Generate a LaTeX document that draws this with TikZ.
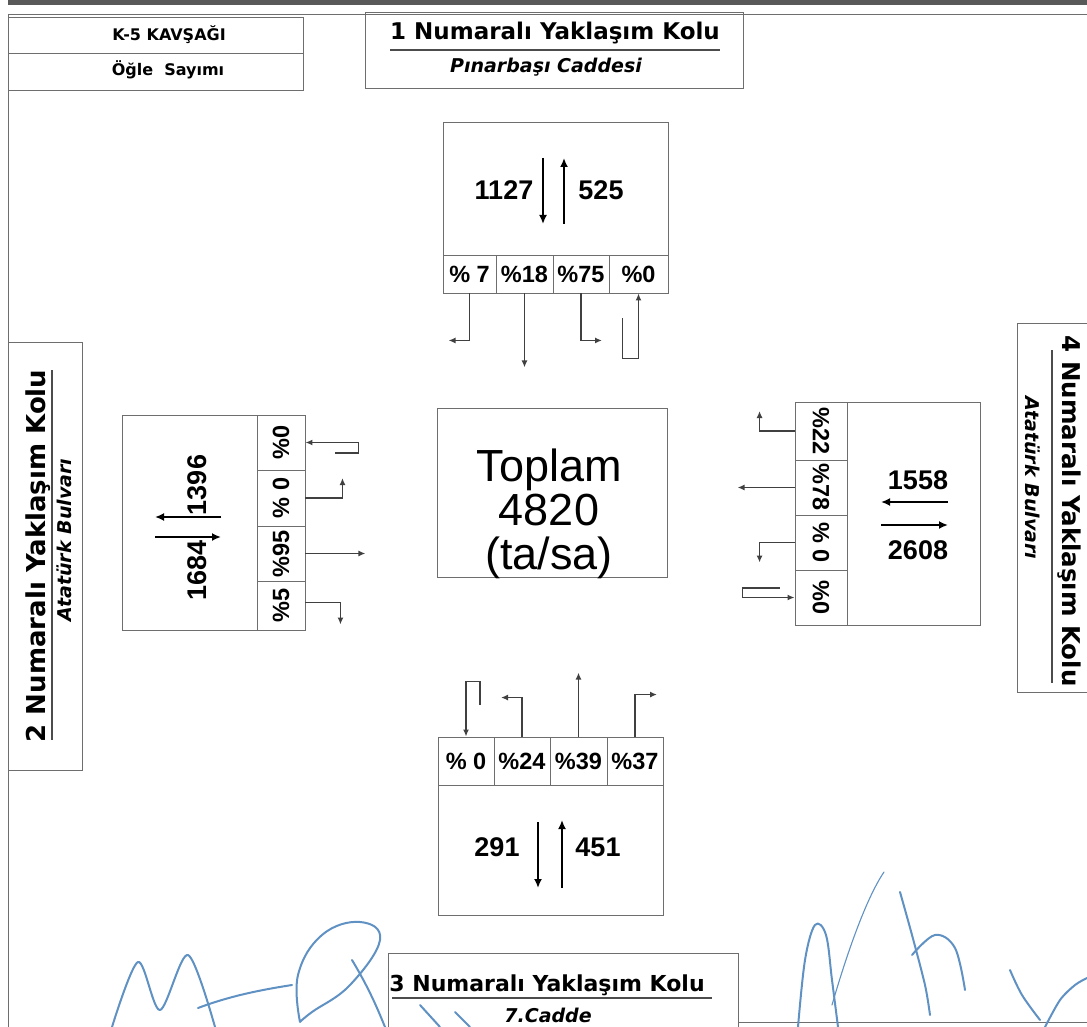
\documentclass[tikz,border=0pt]{standalone}
\usepackage{fontspec}
\setmainfont{Liberation Sans}
\newfontfamily\djv{DejaVu Sans}
\usetikzlibrary{arrows.meta,calc}
\definecolor{linegray}{RGB}{110,110,110}
\definecolor{sigblue}{RGB}{95,145,195}
\tikzset{
  box/.style={draw=linegray, line width=0.9pt, inner sep=0pt},
  cellbox/.style={box, font=\fontsize{23.5}{25}\selectfont\bfseries},
  numtxt/.style={inner sep=0pt, font=\fontsize{27}{30}\selectfont\bfseries},
  turn/.style={draw=black!75, line width=1.5pt, -{Latex[length=7pt,width=6pt]}},
  flow/.style={draw=black, line width=2.4pt, -{Latex[length=9pt,width=8pt]}},
  ttl/.style={inner sep=0pt, font=\djv\bfseries\fontsize{23}{27}\selectfont},
  subttl/.style={inner sep=0pt, font=\djv\bfseries\itshape\fontsize{19}{22}\selectfont},
  hdr/.style={inner sep=0pt, font=\djv\bfseries\fontsize{16}{19}\selectfont},
  sig/.style={draw=sigblue, line width=2pt, line cap=round, line join=round},
}
\begin{document}
\begin{tikzpicture}[x=1pt,y=-1pt]
\useasboundingbox (0,0) rectangle (1087,1027);
% frame
\fill[black!65] (8,0) rectangle (1087,5);
\draw[linegray, line width=0.8pt] (8,14) -- (1087,14);
\draw[linegray, line width=0.8pt] (8,14) -- (8,1027);
\draw[linegray, line width=0.8pt] (738,1022) -- (1087,1022);

% header box top-left
\node[box, minimum width=295pt, minimum height=36pt] (H1) at (155.5,35) {};
\node[box, minimum width=295pt, minimum height=37pt] (H2) at (155.5,71.5) {};
\node[hdr] (h1t) at (169,35) {K-5 KAVŞAĞI};
\node[hdr] (h2t) at (168,70) {Öğle\ \ Sayımı};

% approach 1 title
\node[box, minimum width=378pt, minimum height=76pt] (T1) at (554,50) {};
\node[ttl] (t1a) at (555,33) {1 Numaralı Yaklaşım Kolu};
\node[subttl] (t1b) at (546,67) {Pınarbaşı Caddesi};
\draw[black!70, line width=1.8pt] (390,50) -- (720,50);

% approach 3 title
\node[box, minimum width=350pt, minimum height=100pt, anchor=north west] (T3) at (388,953) {};
\node[ttl, font=\djv\bfseries\fontsize{22}{26}\selectfont] (t3a) at (547,985) {3 Numaralı Yaklaşım Kolu};
\node[subttl] (t3b) at (548,1015) {7.Cadde};
\draw[black!70, line width=2pt] (392,998) -- (712,998);

% approach 2 title
\node[box, minimum width=74pt, minimum height=428pt] (T2) at (45,556) {};
\node[ttl, rotate=90, font=\djv\bfseries\fontsize{26}{30}\selectfont] (t2a) at (38,556) {2 Numaralı Yaklaşım Kolu};
\node[subttl, rotate=90] (t2b) at (64,540) {Atatürk Bulvarı};
\draw[black!70, line width=1.6pt] (52,370) -- (52,740);

% approach 4 title
\node[box, minimum width=80pt, minimum height=369pt, anchor=north west] (T4) at (1017,323) {};
\node[ttl, rotate=-90, font=\djv\bfseries\fontsize{24.5}{28}\selectfont] (t4a) at (1069,511) {4 Numaralı Yaklaşım Kolu};
\node[subttl, rotate=-90] (t4b) at (1033,478) {Atatürk Bulvarı};
\draw[black!70, line width=1.6pt] (1052,350) -- (1052,683);

% ---------------- north approach
\node[box, minimum width=225pt, minimum height=133pt] (N) at (555.5,188.5) {};
\node[cellbox, minimum width=53pt, minimum height=38pt] (N1) at (469.5,274) {\% 7};
\node[cellbox, minimum width=57pt, minimum height=38pt] (N2) at (524.5,274) {\%18};
\node[cellbox, minimum width=56pt, minimum height=38pt] (N3) at (581,274) {\%75};
\node[cellbox, minimum width=59pt, minimum height=38pt] (N4) at (638.5,274) {\%0};
\node[numtxt] (nin) at (504,190) {1127};
\node[numtxt] (nout) at (601,190) {525};
\draw[flow] (543,158) -- (543,224);
\draw[flow] (564,224) -- (564,158);
\draw[turn] (N1.south) -- ++(0,47) -- ++(-21,0);
\draw[turn] (N2.south) -- ++(0,74);
\draw[turn] (N3.south) -- ++(0,47) -- ++(21,0);
\draw[turn] ($(N4.south)+(-16,25)$) -- ++(0,40) -| (N4.south);

% ---------------- south approach
\node[box, minimum width=225pt, minimum height=130pt] (S) at (550.5,850) {};
\node[cellbox, minimum width=56pt, minimum height=48pt] (S1) at (466,761) {\% 0};
\node[cellbox, minimum width=56pt, minimum height=48pt] (S2) at (522,761) {\%24};
\node[cellbox, minimum width=57pt, minimum height=48pt] (S3) at (578.5,761) {\%39};
\node[cellbox, minimum width=56pt, minimum height=48pt] (S4) at (635,761) {\%37};
\node[numtxt] (sin) at (497,847) {291};
\node[numtxt] (sout) at (598,847) {451};
\draw[flow] (538,822) -- (538,888);
\draw[flow] (562,888) -- (562,820);
\draw[turn] ($(S1.north)+(14,-32)$) -- ++(0,-23) -| (S1.north);
\draw[turn] (S2.north) -- ++(0,-39) -- ++(-21,0);
\draw[turn] (S3.north) -- ++(0,-64);
\draw[turn] (S4.north) -- ++(0,-42) -- ++(22,0);

% ---------------- west approach (cells rotated: local south = right side)
\node[box, minimum width=135pt, minimum height=215pt] (W) at (189.5,522.5) {};
\node[cellbox, rotate=90, minimum width=55pt, minimum height=48pt] (W1) at (281,442.5) {\%0};
\node[cellbox, rotate=90, minimum width=56pt, minimum height=48pt] (W2) at (281,498) {\% 0};
\node[cellbox, rotate=90, minimum width=55pt, minimum height=48pt] (W3) at (281,553.5) {\%95};
\node[cellbox, rotate=90, minimum width=49pt, minimum height=48pt] (W4) at (281,605.5) {\%5};
\node[numtxt, rotate=90] (win) at (197,570) {1684};
\node[numtxt, rotate=90] (wout) at (197,485) {1396};
\draw[flow] (221,517) -- (155,517);
\draw[flow] (155,537) -- (221,537);
\draw[turn] ($(W1.south)+(30,10.5)$) -- ++(23,0) |- (W1.south);
\draw[turn] (W2.south) -- ++(37,0) -- ++(0,-20);
\draw[turn] (W3.south) -- ++(60,0);
\draw[turn] ($(W4.south)+(0,-3)$) -- ++(35,0) -- ++(0,22);

% ---------------- east approach (cells rotated: local south = left side)
\node[box, minimum width=133pt, minimum height=223pt] (E) at (913.5,513.5) {};
\node[cellbox, rotate=-90, minimum width=58pt, minimum height=52pt] (E1) at (821,431) {\%22};
\node[cellbox, rotate=-90, minimum width=55pt, minimum height=52pt] (E2) at (821,487.5) {\%78};
\node[cellbox, rotate=-90, minimum width=55pt, minimum height=52pt] (E3) at (821,542.5) {\% 0};
\node[cellbox, rotate=-90, minimum width=55pt, minimum height=52pt] (E4) at (821,597.5) {\%0};
\node[numtxt] (ein) at (918,480) {1558};
\node[numtxt] (eout) at (918,550) {2608};
\draw[flow] (948,502) -- (881,502);
\draw[flow] (881,525) -- (948,525);
\draw[turn] (E1.south) -- ++(-35,0) -- ++(0,-20);
\draw[turn] (E2.south) -- ++(-57,0);
\draw[turn] (E3.south) -- ++(-35,0) -- ++(0,20);
\draw[turn] ($(E4.south)+(-15,-9.5)$) -- ++(-37,0) |- (E4.south);

% ---------------- centre
\node[box, minimum width=230pt, minimum height=169pt] (C) at (552,492.5) {};
\node[inner sep=0pt, align=center, font=\fontsize{45}{44}\selectfont] (ctxt) at (549,514) {Toplam\\4820\\(ta/sa)};

% ---------------- signatures
\draw[sig] plot[smooth, tension=0.5] coordinates {(112,1027) (138,962) (160,1010) (188,955) (215,1027)};
\draw[sig] (198,1008) .. controls (230,996) and (260,990) .. (292,985);
\draw[sig] plot[smooth, tension=0.7] coordinates {(300,1022) (298,975) (322,935) (360,922) (380,940) (350,985) (312,1012) (300,1022)};
\draw[sig] (352,960) .. controls (370,990) and (378,1010) .. (385,1027);
\draw[sig] (420,1005) -- (440,1027);
\draw[sig] (455,1012) -- (470,1027);
\draw[sig] plot[smooth, tension=0.6] coordinates {(798,1027) (805,960) (815,925) (826,935) (832,980) (838,1027)};
\draw[sig, line width=1.1pt] (832,1005) .. controls (845,960) and (865,900) .. (884,872);
\draw[sig] plot[smooth, tension=0.5] coordinates {(900,892) (912,935) (925,985) (930,1015)};
\draw[sig] plot[smooth, tension=0.6] coordinates {(912,955) (935,935) (955,948) (965,990)};
\draw[sig] plot[smooth, tension=0.6] coordinates {(1010,970) (1022,995) (1040,1020)};
\draw[sig] plot[smooth, tension=0.5] coordinates {(1045,1027) (1060,1000) (1075,985) (1087,978)};
\end{tikzpicture}
\end{document}
